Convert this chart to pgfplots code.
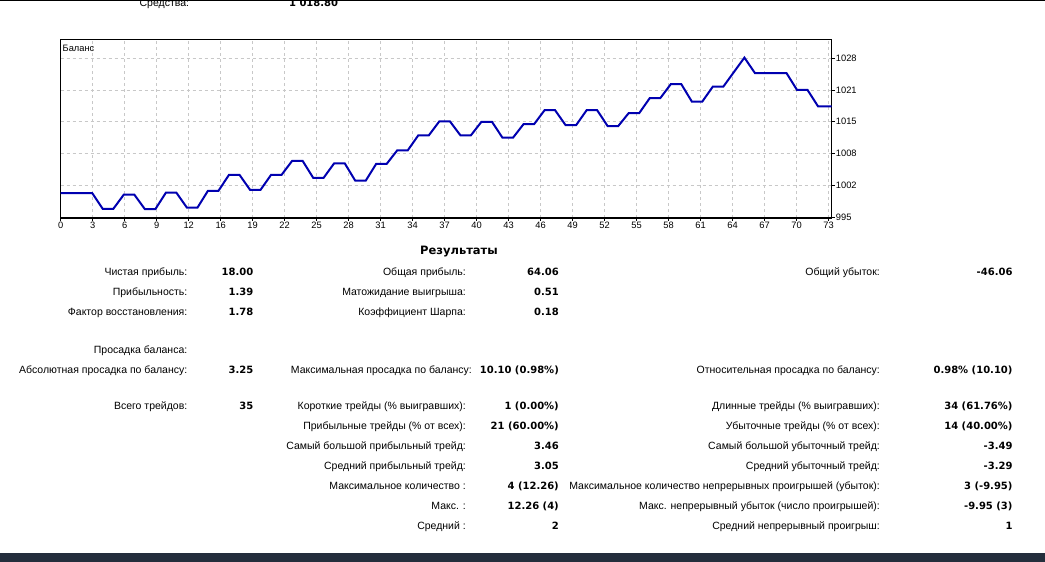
\documentclass[border=0pt]{standalone}
\usepackage{pgfplots}
\pgfplotsset{compat=1.18}
\usepackage{fontspec}
\setmainfont{Liberation Sans}
\newfontfamily\dv{DejaVu Sans}
\definecolor{balblue}{RGB}{0,0,176}
\definecolor{gridgray}{RGB}{200,200,200}
\definecolor{barnavy}{RGB}{36,46,60}
\newcommand\tf{\fontsize{9.3bp}{10bp}\selectfont}
\newcommand\lab[3]{\node[anchor=base east,inner sep=0pt,font=\fontsize{10.5bp}{12bp}\selectfont] at (#1,#2) {#3};}
\newcommand\val[3]{\node[anchor=base east,inner sep=0pt,font=\dv\bfseries\fontsize{10bp}{12bp}\selectfont] at (#1,#2) {#3};}
\begin{document}
\begin{tikzpicture}[x=1bp,y=1bp]
\path[use as bounding box, fill=white] (0,0) rectangle (1045,562);
% top partial row
\node[anchor=base east,inner sep=0pt,font=\fontsize{10.5bp}{12bp}\selectfont] at (189.3,555.8) {Средства:};
\node[anchor=base east,inner sep=0pt,font=\dv\bfseries\fontsize{10bp}{12bp}\selectfont] at (338.3,555.8) {1 018.80};
\fill[white] (0,560.5) rectangle (1045,562);
\draw[black,line width=1bp] (0,561.5) -- (1045,561.5);
\begin{axis}[
  at={(60.7bp,522.7bp)}, anchor=north west,
  scale only axis, width=771bp, height=178.7bp,
  xmin=0, xmax=73.3, ymin=994.86, ymax=1031.9,
  xtick={0,3.0417,6.0833,9.125,12.1667,15.2083,18.25,21.2917,24.3333,27.375,30.4167,33.4583,36.5,39.5417,42.5833,45.625,48.6667,51.7083,54.75,57.7917,60.8333,63.875,66.9167,69.9583,73},
  xticklabels={0,3,6,9,12,16,19,22,25,28,31,34,37,40,43,46,49,52,55,58,61,64,67,70,73},
  ytick={995,1001.6,1008.2,1014.8,1021.4,1028},
  yticklabels={995,1002,1008,1015,1021,1028},
  xtick pos=bottom, ytick pos=right, yticklabel pos=right,
  tick align=outside, major tick length=3bp,
  tick style={black,line width=0.8bp},
  grid=major,
  major grid style={gridgray,line width=0.8bp,dash pattern=on 3bp off 3bp},
  axis line style={black,line width=1.2bp},
  ticklabel style={font=\tf,inner sep=1bp},
  /pgf/number format/assume math mode=true,
  clip=false,
]
\addplot[balblue,line width=2bp] coordinates {
(0,1000.00) (3,1000.00) (4,996.75) (5,996.75) (6,999.70) (7,999.70)
(8,996.70) (9,996.70) (10,1000.10) (11,1000.10) (12,997.00) (13,997.00)
(14,1000.50) (15,1000.50) (16,1003.80) (17,1003.80) (18,1000.70) (19,1000.70)
(20,1003.80) (21,1003.80) (22,1006.70) (23,1006.70) (24,1003.20) (25,1003.20)
(26,1006.20) (27,1006.20) (28,1002.60) (29,1002.60) (30,1006.10) (31,1006.10)
(32,1008.90) (33,1008.90) (34,1012.00) (35,1012.00) (36,1014.90) (37,1014.90)
(38,1012.00) (39,1012.00) (40,1014.80) (41,1014.80) (42,1011.50) (43,1011.50)
(44,1014.30) (45,1014.30) (46,1017.20) (47,1017.20) (48,1014.10) (49,1014.10)
(50,1017.20) (51,1017.20) (52,1013.90) (53,1013.90) (54,1016.60) (55,1016.60)
(56,1019.70) (57,1019.70) (58,1022.60) (59,1022.60) (60,1019.00) (61,1019.00)
(62,1022.10) (63,1022.10) (64,1025.10) (65,1028.10) (66,1024.90) (69,1024.90)
(70,1021.40) (71,1021.40) (72,1018.00) (73.3,1018.00)
};
\end{axis}
\node[anchor=base west,inner sep=0pt,font=\tf] at (62.5,510.3) {Баланс};
% title
\node[anchor=base,inner sep=0pt,font=\dv\bfseries\fontsize{11.5bp}{13bp}\selectfont] at (459,307.7) {Результаты};
% column 1
\lab{187.5}{286.4}{Чистая прибыль:} \val{253.5}{286.4}{18.00}
\lab{187.5}{266.4}{Прибыльность:} \val{253.5}{266.4}{1.39}
\lab{187.5}{246.4}{Фактор восстановления:} \val{253.5}{246.4}{1.78}
\lab{187.5}{208.7}{Просадка баланса:}
\lab{187.5}{188.7}{Абсолютная просадка по балансу:} \val{253.5}{188.7}{3.25}
\lab{187.5}{152}{Всего трейдов:} \val{253.5}{152}{35}
% column 2
\lab{466}{286.4}{Общая прибыль:} \val{559}{286.4}{64.06}
\lab{466}{266.4}{Матожидание выигрыша:} \val{559}{266.4}{0.51}
\lab{466}{246.4}{Коэффициент Шарпа:} \val{559}{246.4}{0.18}
\lab{472}{188.7}{Максимальная просадка по балансу:} \val{559}{188.7}{10.10 (0.98\%)}
\lab{466}{152}{Короткие трейды (\% выигравших):} \val{559}{152}{1 (0.00\%)}
\lab{466}{132}{Прибыльные трейды (\% от всех):} \val{559}{132}{21 (60.00\%)}
\lab{466}{112}{Самый большой прибыльный трейд:} \val{559}{112}{3.46}
\lab{466}{92}{Средний прибыльный трейд:} \val{559}{92}{3.05}
\lab{466}{72}{Максимальное количество :} \val{559}{72}{4 (12.26)}
\lab{466}{52}{Макс. :} \val{559}{52}{12.26 (4)}
\lab{466}{32}{Средний :} \val{559}{32}{2}
% column 3
\lab{880}{286.4}{Общий убыток:} \val{1012.7}{286.4}{-46.06}
\lab{880}{188.7}{Относительная просадка по балансу:} \val{1012.7}{188.7}{0.98\% (10.10)}
\lab{880}{152}{Длинные трейды (\% выигравших):} \val{1012.7}{152}{34 (61.76\%)}
\lab{880}{132}{Убыточные трейды (\% от всех):} \val{1012.7}{132}{14 (40.00\%)}
\lab{880}{112}{Самый большой убыточный трейд:} \val{1012.7}{112}{-3.49}
\lab{880}{92}{Средний убыточный трейд:} \val{1012.7}{92}{-3.29}
\lab{880}{72}{Максимальное количество непрерывных проигрышей (убыток):} \val{1012.7}{72}{3 (-9.95)}
\lab{880}{52}{Макс. непрерывный убыток (число проигрышей):} \val{1012.7}{52}{-9.95 (3)}
\lab{880}{32}{Средний непрерывный проигрыш:} \val{1012.7}{32}{1}
% bottom bar
\fill[barnavy] (0,0) rectangle (1045,8.7);
\end{tikzpicture}
\end{document}
